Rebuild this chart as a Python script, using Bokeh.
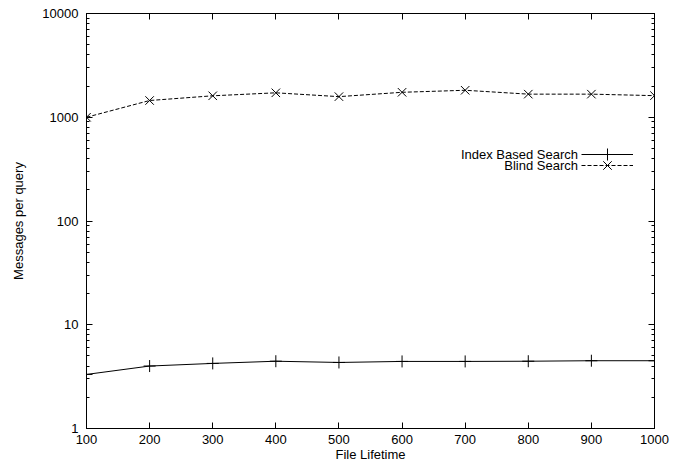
from bokeh.plotting import figure
from bokeh.models import (FixedTicker, LinearAxis, LogAxis, Legend, LegendItem, Label, Range1d,
                          CustomJSTickFormatter)
from bokeh.embed import file_html
from bokeh.resources import INLINE

# ---- data ----
file_lifetime = [100, 200, 300, 400, 500, 600, 700, 800, 900, 1000]
index_based = [3.32, 4.0, 4.24, 4.45, 4.33, 4.43, 4.43, 4.45, 4.5, 4.5]
blind_search = [1000, 1450, 1610, 1720, 1580, 1740, 1820, 1670, 1670, 1615]
series_names = ["Index Based Search", "Blind Search"]
x_ticks = [100, 200, 300, 400, 500, 600, 700, 800, 900, 1000]
y_ticks = [1, 10, 100, 1000, 10000]
y_tick_labels = ["1", "10", "100", "1000", "10000"]
y_minor = [m * d for d in [1, 10, 100, 1000] for m in range(2, 10)]
x_label = "File Lifetime"
y_label = "Messages per query"

FONT = "Liberation Sans"
FS = "13px"

p = figure(width=678, height=467, x_range=Range1d(100, 1000), y_range=Range1d(1, 10000),
           y_axis_type="log", output_backend="svg", toolbar_location=None,
           min_border_left=86, min_border_right=24, min_border_top=13, min_border_bottom=39)
p.xgrid.visible = False
p.ygrid.visible = False
p.outline_line_color = "black"
p.outline_line_width = 1
p.background_fill_color = "white"
p.border_fill_color = "white"

def style_axis(ax, labels=True):
    ax.major_tick_in = 6
    ax.major_tick_out = 0
    ax.minor_tick_in = 3
    ax.minor_tick_out = 0
    ax.major_tick_line_color = "black"
    ax.minor_tick_line_color = "black"
    ax.axis_line_color = "black"
    ax.major_label_text_font = FONT
    ax.major_label_text_color = "black"
    ax.major_label_text_font_size = FS
    ax.axis_label_text_font = FONT
    ax.axis_label_text_font_style = "normal"
    ax.axis_label_text_color = "black"
    ax.axis_label_text_font_size = FS
    if not labels:
        ax.formatter = CustomJSTickFormatter(code="return ''")
        ax.major_label_standoff = 0

xb = p.xaxis[0]
xb.ticker = FixedTicker(ticks=x_ticks)
style_axis(xb)
xb.major_label_standoff = 6
xb.axis_label = x_label
xb.axis_label_standoff = 0

yl = p.yaxis[0]
yl.ticker = FixedTicker(ticks=y_ticks, minor_ticks=y_minor)
yl.major_label_overrides = {t: s for t, s in zip(y_ticks, y_tick_labels)}
style_axis(yl)
yl.major_label_standoff = 8
yl.axis_label = y_label
yl.axis_label_standoff = 13

xt = LinearAxis(ticker=FixedTicker(ticks=x_ticks))
style_axis(xt, labels=False)
p.add_layout(xt, "above")

yr = LogAxis(ticker=FixedTicker(ticks=y_ticks, minor_ticks=y_minor))
style_axis(yr, labels=False)
p.add_layout(yr, "right")

r1 = p.line(file_lifetime, index_based, line_color="black", line_width=1)
s1 = p.scatter(file_lifetime, index_based, marker="cross", size=12, line_color="black", line_width=1)
r2 = p.line(file_lifetime, blind_search, line_color="black", line_width=1, line_dash="4 2")
s2 = p.scatter(file_lifetime, blind_search, marker="x", size=12, line_color="black", line_width=1)

# one legend box per entry (gnuplot style: sample to the right of the text)
for rends, ly in zip([[r1, s1], [r2, s2]], [259.4, 248.4]):
    lg = Legend(items=[LegendItem(label=" ", renderers=rends)],
                location=(495, ly), glyph_width=52, glyph_height=30, label_height=11,
                label_width=0, spacing=0, padding=0, margin=0, label_standoff=0,
                label_text_font_size=FS, background_fill_alpha=0, border_line_alpha=0)
    p.add_layout(lg, "center")

for name, yy in zip(series_names, [274.4, 263.4]):
    p.add_layout(Label(x=491.5, y=yy, x_units="screen", y_units="screen", text=name,
                       text_align="right", text_baseline="middle", text_font=FONT,
                       text_font_size=FS, text_color="black"))

open("out.html", "w").write(file_html(p, INLINE))
